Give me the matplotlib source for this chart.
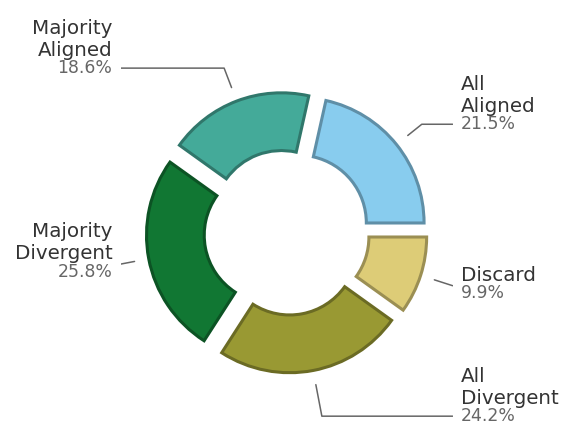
import numpy as np
import matplotlib
matplotlib.use("Agg")
import matplotlib.pyplot as plt
from matplotlib.colors import to_rgb

labels = ['All\nAligned', 'Majority\nAligned', 'Majority\nDivergent', 'All\nDivergent', 'Discard']
shares = [21.5, 18.6, 25.8, 24.2, 9.9]
colors = ['#88CCEE', '#44AA99', '#117733', '#999933', '#DDCC77']


def darker(c, f=0.7):
    return tuple(v * f for v in to_rgb(c))


fig = plt.figure(figsize=(5.61, 4.23), dpi=100)
ax = fig.add_axes([0, 0, 1, 1])

wedges, _ = ax.pie(shares, explode=[0.12] * len(shares), startangle=0, colors=colors,
                   wedgeprops=dict(width=0.46, linewidth=2.2))
for w, c in zip(wedges, colors):
    w.set_edgecolor(darker(c))

# labels: name on top, percentage below with a leader line
for w, name, v in zip(wedges, labels, shares):
    ang = (w.theta1 + w.theta2) / 2
    x, y = np.cos(np.deg2rad(ang)), np.sin(np.deg2rad(ang))
    side = np.sign(x)
    ha = 'left' if side > 0 else 'right'
    pos = (1.39 * side, 1.447 * y - 0.043)
    ax.annotate(f'{v:.1f}%', xy=(1.235 * x, 1.235 * y), xytext=pos,
                ha=ha, va='center', fontsize=12.4, color='#666666',
                bbox=dict(boxstyle='square,pad=0.5', fc='white', ec='none'),
                arrowprops=dict(arrowstyle='-', color='#666666', lw=1.1,
                                shrinkA=0, shrinkB=0,
                                connectionstyle=f'angle,angleA=0,angleB={ang}'))
    ax.annotate(name, xy=pos, xytext=(0, 6.2), textcoords='offset points',
                ha=ha, va='bottom', fontsize=14.3, color='#333333', linespacing=1.2)

ax.set_xlim(-286.8 / 125.5, (561 - 286.8) / 125.5)
ax.set_ylim(-(423 - 232.4) / 125.5, 232.4 / 125.5)
ax.set_aspect('auto')
ax.axis('off')

fig.savefig('out.png', dpi=100)
